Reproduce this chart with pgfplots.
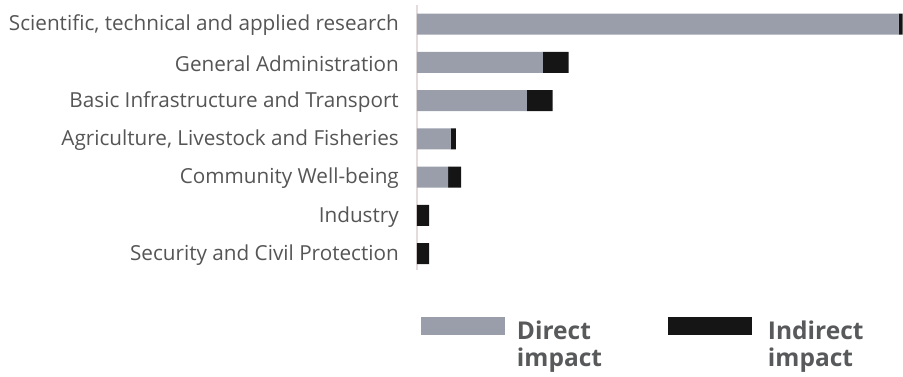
\documentclass[border=0pt]{standalone}
\usepackage{pgfplots}
\pgfplotsset{compat=1.18}
\usepackage{fontspec}
\setmainfont{Open Sans}

\definecolor{directc}{RGB}{154,158,171}
\definecolor{indirectc}{RGB}{21,21,21}
\definecolor{labelc}{RGB}{85,85,85}
\definecolor{legendc}{RGB}{88,89,91}
\definecolor{axisc}{RGB}{228,220,220}

\begin{document}
\begin{tikzpicture}
\begin{axis}[
    xbar stacked,
    scale only axis,
    width=486pt, height=265pt,
    xmin=0, xmax=100,
    ymin=-0.497, ymax=6.43,
    y dir=reverse,
    bar width=21pt,
    axis x line=none,
    axis y line=left,
    y axis line style={-, draw=axisc, line width=2pt},
    ytick={0,...,6},
    yticklabels={{Scientific, technical and applied research},
        General Administration,
        Basic Infrastructure and Transport,
        {Agriculture, Livestock and Fisheries},
        Community Well-being,
        Industry,
        Security and Civil Protection},
    major tick length=0pt,
    ytick style={draw=none},
    yticklabel style={font=\fontsize{20.7}{24}\selectfont, text=labelc,
        anchor=east, inner sep=0pt, xshift=-18pt, yshift=-1.5pt},
    legend columns=2,
    legend image code/.code={\fill[#1,draw=none] (0pt,-4.5pt) rectangle (84pt,13.5pt);},
    legend style={at={(axis description cs:0.0082,-0.1774)}, anchor=north west,
        draw=none, fill=none, inner sep=0pt, outer sep=0pt,
        column sep=0pt, row sep=0pt,
        nodes={inner sep=0pt, outer sep=0pt},
        font=\fontsize{24.5}{27}\selectfont\bfseries, text=legendc},
]
% direct impact
\addplot[fill=directc, draw=none] coordinates {
    (99.1,0) (25.9,1) (22.6,2) (6.9,3) (6.4,4) (0,5) (0,6)};
\addlegendentry{\begin{tabular}[t]{@{\hspace{12pt}}p{151pt}@{}}Direct\\impact\end{tabular}}
% indirect impact
\addplot[fill=indirectc, draw=none] coordinates {
    (0.8,0) (5.3,1) (5.3,2) (1.1,3) (2.7,4) (2.5,5) (2.5,6)};
\addlegendentry{\begin{tabular}[t]{@{\hspace{16pt}}p{120pt}@{}}Indirect\\impact\end{tabular}}
\end{axis}
\pgfresetboundingbox
\path[use as bounding box] (-417pt,-106pt) rectangle (486pt,270pt);
\end{tikzpicture}
\end{document}
